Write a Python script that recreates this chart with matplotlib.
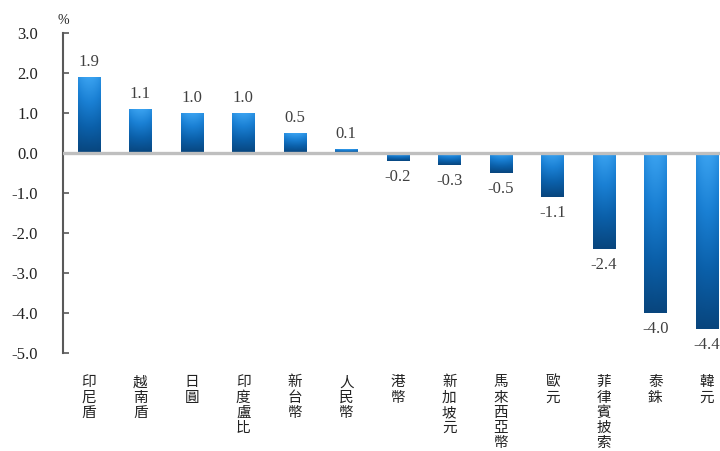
import numpy as np
import matplotlib
matplotlib.use("Agg")
import matplotlib.pyplot as plt
from matplotlib.colors import LinearSegmentedColormap

plt.rcParams['font.family'] = ['Liberation Serif', 'Noto Sans CJK TC']

currencies = ['印尼盾', '越南盾', '日圓', '印度盧比', '新台幣', '人民幣', '港幣',
              '新加坡元', '馬來西亞幣', '歐元', '菲律賓披索', '泰銖', '韓元']
changes = [1.9, 1.1, 1.0, 1.0, 0.5, 0.1, -0.2, -0.3, -0.5, -1.1, -2.4, -4.0, -4.4]
y_ticks = [3.0, 2.0, 1.0, 0.0, -1.0, -2.0, -3.0, -4.0, -5.0]

fig = plt.figure(figsize=(7.2, 4.51), dpi=100)
ax = fig.add_axes([0.0875, 0.2173, 0.93, 0.7095])

x = np.arange(len(currencies))
bars = ax.bar(x, changes, width=0.43, color='none', edgecolor='none', zorder=2)

# vertical shading, light at the top of each bar and deep blue at the bottom
cmap = LinearSegmentedColormap.from_list('blu', ['#08457D', '#0B60AA', '#1A80D4', '#3AA2F0'])
grad_v = np.linspace(0, 1, 128)[:, None]
grad_h = 1 - 0.18 * np.abs(np.linspace(-1, 1, 32))[None, :] ** 2
shade = grad_v * grad_h
for b in bars:
    x0, y0 = b.get_x(), b.get_y()
    w, h = b.get_width(), b.get_height()
    top = max(y0, y0 + h)
    bot = min(y0, y0 + h)
    im = ax.imshow(shade, cmap=cmap, vmin=0, vmax=1, aspect='auto', origin='lower',
                   extent=[x0, x0 + w, bot, top], zorder=2, interpolation='bilinear')
    im.set_clip_path(b)

for xi, v in zip(x, changes):
    if v >= 0:
        ax.annotate(f'{v:.1f}', (xi, v), xytext=(0, 5), textcoords='offset points',
                    ha='center', va='bottom', fontsize=12, color='#404040')
    else:
        ax.annotate(f'{v:.1f}', (xi, v), xytext=(0, -6), textcoords='offset points',
                    ha='center', va='top', fontsize=12, color='#404040')

ax.axhline(0, color='#BFBFBF', lw=2.4, zorder=3)

ax.set_ylim(-5, 3)
ax.set_xlim(-0.5, len(currencies) - 0.5)
ax.set_yticks(y_ticks)
ax.set_yticklabels([f'{t:.1f}' for t in y_ticks], fontsize=12, color='#222222')
ax.tick_params(axis='y', direction='in', length=4, width=1.2, color='#595959', pad=18)

ax.set_xticks(x)
ax.set_xticklabels(['\n'.join(c) for c in currencies], fontsize=10.5,
                   family=['Noto Sans CJK TC'], linespacing=1.12, color='#222222')
ax.tick_params(axis='x', length=0, pad=16)

for s in ['top', 'right', 'bottom']:
    ax.spines[s].set_visible(False)
ax.spines['left'].set_color('#595959')
ax.spines['left'].set_linewidth(1.5)

fig.text(0.088, 0.955, '%', fontsize=10, ha='center', va='center', color='#222222')

fig.savefig('out.png', dpi=100)
